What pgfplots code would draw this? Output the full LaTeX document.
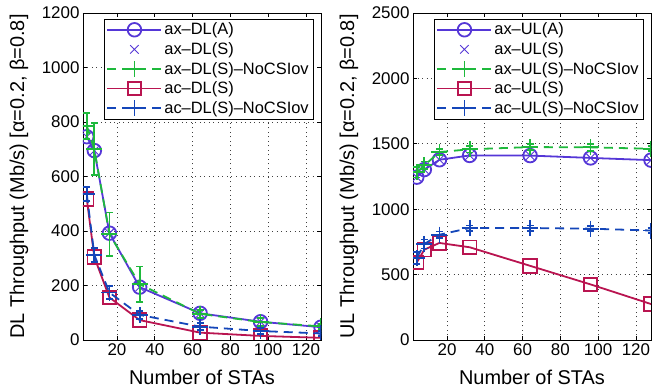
\documentclass[border=0pt]{standalone}
\usepackage{fontspec}
\setmainfont{Liberation Sans}
\usepackage{pgfplots}
\pgfplotsset{compat=1.18}
\definecolor{cA}{RGB}{85,55,215}
\definecolor{cG}{RGB}{30,185,60}
\definecolor{cR}{RGB}{185,20,80}
\definecolor{cB}{RGB}{20,70,185}
\pgfplotsset{
  mystyle/.style={
    scale only axis, width=238bp, height=327bp,
    xmin=2, xmax=128, xtick={20,40,...,120},
    grid=major, grid style={dash pattern=on 1bp off 3.5bp, black!75, line width=0.7bp},
    tick align=inside, major tick length=4bp,
    axis line style={line width=0.9bp}, every tick/.style={black, line width=0.6bp},
    /pgf/number format/assume math mode=true,
    /pgf/number format/1000 sep={},
    ticklabel style={font=\fontsize{17}{20}\selectfont},
    xlabel={Number of STAs},
    every axis x label/.style={at={(axis description cs:0.5,0)}, yshift=-37bp, anchor=center, font=\fontsize{20}{24}\selectfont},
    every axis y label/.style={at={(axis description cs:0,0.5)}, xshift=-64bp, rotate=90, anchor=center, font=\fontsize{20}{24}\selectfont},
    clip marker paths=true,
    legend style={at={(rel axis cs:0.966,0.982)}, anchor=north east,
      font=\fontsize{16.5}{20}\selectfont, draw=black,
      cells={anchor=west}, inner xsep=2bp, inner ysep=2bp, row sep=2.2bp},
    legend image code/.code={\draw[mark repeat=2,mark phase=2] plot coordinates {(0bp,0bp) (27bp,0bp) (54bp,0bp)};},
    sA/.style={cA, line width=1.8bp, mark=o, mark size=6.8bp, mark options={solid, line width=1.8bp}},
    sX/.style={cA, only marks, mark=x, mark size=6bp, mark options={line width=0.9bp}},
    sG/.style={cG, line width=1.8bp, dash pattern=on 9bp off 6bp, mark=+, mark size=8bp, mark options={solid, line width=1.8bp},
      error bars/.cd, y dir=both, y explicit, error bar style={solid, line width=1.8bp}, error mark options={rotate=90, mark size=3.5bp, line width=1.8bp}},
    sR/.style={cR, line width=1.8bp, mark=square, mark size=6.8bp, mark options={solid, line width=1.8bp}},
    sB/.style={cB, line width=1.8bp, dash pattern=on 9bp off 6bp, mark=+, mark size=8bp, mark options={solid, line width=1.8bp},
      error bars/.cd, y dir=both, y explicit, error bar style={solid, line width=1.8bp}, error mark options={rotate=90, mark size=3.5bp, line width=1.8bp}},
  }
}
\begin{document}
\begin{tikzpicture}
\useasboundingbox (-83bp,-47bp) rectangle (570bp,340bp);
\begin{axis}[mystyle, ymin=0, ymax=1200, ytick={0,200,...,1200},
  ylabel={DL Throughput (Mb/s) [α=0.2, β=0.8]}]
\addplot[sA] coordinates {(4,746) (8,695) (16,392) (32,194) (64,98) (96,67) (128,47)};
\addlegendentry{ax–DL(A)}
\addplot[sX] coordinates {(4,746) (8,695) (16,392) (32,194) (64,98) (96,67) (128,47)};
\addlegendentry{ax–DL(S)}
\addplot[sG] coordinates {(4,786) +- (0,48) (8,700) +- (0,95) (16,388) +- (0,80) (32,205) +- (0,65) (64,96) +- (0,15) (96,66) +- (0,15) (128,50) +- (0,10)};
\addlegendentry{ax–DL(S)–NoCSIov}
\addplot[sR] coordinates {(4,518) (8,304) (16,156) (32,73) (64,27) (96,15) (128,8)};
\addlegendentry{ac–DL(S)}
\addplot[sB] coordinates {(4,536) +- (0,25) (8,312) +- (0,25) (16,174) +- (0,25) (32,92) +- (0,15) (64,49) +- (0,12) (96,33) +- (0,10) (128,24) +- (0,8)};
\addlegendentry{ac–DL(S)–NoCSIov}
\end{axis}
\begin{axis}[mystyle, xshift=330bp, ymin=0, ymax=2500, ytick={0,500,...,2500},
  ylabel={UL Throughput (Mb/s) [α=0.2, β=0.8]}]
\addplot[sA] coordinates {(4,1245) (8,1303) (16,1378) (32,1411) (64,1410) (96,1392) (128,1375)};
\addlegendentry{ax–UL(A)}
\addplot[sX] coordinates {(4,1245) (8,1303) (16,1378) (32,1411) (64,1410) (96,1392) (128,1375)};
\addlegendentry{ax–UL(S)}
\addplot[sG] coordinates {(4,1282) +- (0,40) (8,1335) +- (0,30) (16,1437) +- (0,25) (32,1458) +- (0,25) (64,1475) +- (0,25) (96,1473) +- (0,25) (128,1462) +- (0,20)};
\addlegendentry{ax–UL(S)–NoCSIov}
\addplot[sR] coordinates {(4,592) (8,691) (16,742) (32,709) (64,567) (96,425) (128,275)};
\addlegendentry{ac–UL(S)}
\addplot[sB] coordinates {(4,628) +- (0,45) (8,734) +- (0,35) (16,805) +- (0,25) (32,856) +- (0,20) (64,856) +- (0,20) (96,851) +- (0,20) (128,837) +- (0,20)};
\addlegendentry{ac–UL(S)–NoCSIov}
\end{axis}
\end{tikzpicture}
\end{document}
